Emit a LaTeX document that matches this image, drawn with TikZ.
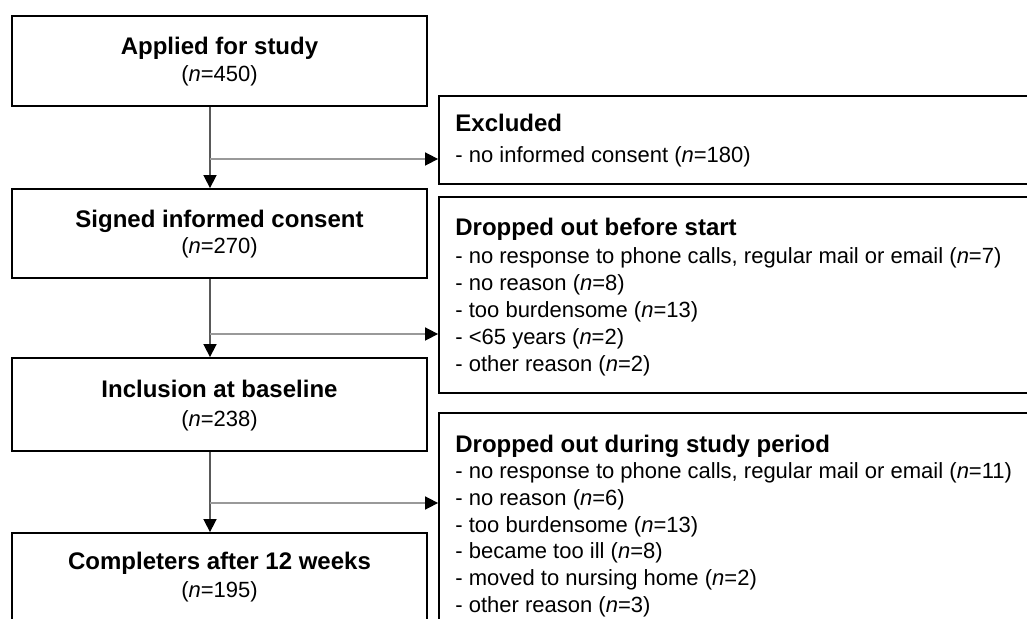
\documentclass[tikz,border=0pt]{standalone}
\usepackage{fontspec}
\setmainfont{Liberation Sans}
\usetikzlibrary{arrows.meta}
\begin{document}
\begin{tikzpicture}[x=0.5pt,y=-0.5pt,
  lbox/.style={draw=black,line width=0.9pt,minimum width=207.5pt,inner sep=0pt},
  rbox/.style={draw=black,line width=0.9pt,minimum width=300.5pt,inner sep=0pt},
  ttl/.style={inner sep=0pt,font=\fontsize{12}{14}\selectfont\bfseries,text height=9pt,text depth=2.5pt},
  num/.style={inner sep=0pt,font=\fontsize{11}{13}\selectfont,text height=8.2pt,text depth=2.3pt},
  rttl/.style={ttl,anchor=west},
  rtxt/.style={num,anchor=west},
  tip/.style={-{Triangle[length=6.5pt,width=6.5pt,color=black,fill=black]}},
  vline/.style={draw=black!65,line width=0.8pt,tip},
  hline/.style={draw=black!40,line width=0.8pt,tip}
]
\useasboundingbox (0,0) rectangle (1027,619);
\fill[white] (0,0) rectangle (1027,619);
\clip (0,0) rectangle (1027,619);

% left column boxes
\node[lbox,minimum height=45pt]   (a) at (219.5,61)    {};
\node[lbox,minimum height=44.5pt] (b) at (219.5,233.5) {};
\node[lbox,minimum height=46.5pt] (c) at (219.5,404.5) {};
\node[lbox,minimum height=45.5pt] (d) at (219.5,578.5) {};

\node[ttl] (at) at (219.5,48)  {Applied for study};
\node[num] (an) at (219.5,76)  {(\textit{n}=450)};
\node[ttl] (bt) at (219.5,221) {Signed informed consent};
\node[num] (bn) at (219.5,248) {(\textit{n}=270)};
\node[ttl] (ct) at (219.5,391) {Inclusion at baseline};
\node[num] (cn) at (219.5,421) {(\textit{n}=238)};
\node[ttl] (dt) at (219.5,563) {Completers after 12 weeks};
\node[num] (dn) at (219.5,592) {(\textit{n}=195)};

% right column boxes
\node[rbox,minimum height=44pt]    (e) at (739.5,140)   {};
\node[rbox,minimum height=98pt]    (f) at (739.5,295)   {};
\node[rbox,minimum height=113.5pt] (g) at (739.5,526.5) {};

\node[rttl] (et)  at (455,125) {Excluded};
\node[rtxt] (e1)  at (455,157) {- no informed consent (\textit{n}=180)};

\node[rttl] (ft)  at (455,229) {Dropped out before start};
\node[rtxt] (f1)  at (455,258) {- no response to phone calls, regular mail or email (\textit{n}=7)};
\node[rtxt] (f2)  at (455,285) {- no reason (\textit{n}=8)};
\node[rtxt] (f3)  at (455,312) {- too burdensome (\textit{n}=13)};
\node[rtxt] (f4)  at (455,339) {- <65 years (\textit{n}=2)};
\node[rtxt] (f5)  at (455,366) {- other reason (\textit{n}=2)};

\node[rttl] (gt)  at (455,446) {Dropped out during study period};
\node[rtxt] (g1)  at (455,473) {- no response to phone calls, regular mail or email (\textit{n}=11)};
\node[rtxt] (g2)  at (455,500) {- no reason (\textit{n}=6)};
\node[rtxt] (g3)  at (455,527) {- too burdensome (\textit{n}=13)};
\node[rtxt] (g4)  at (455,553) {- became too ill (\textit{n}=8)};
\node[rtxt] (g5)  at (455,580) {- moved to nursing home (\textit{n}=2)};
\node[rtxt] (g6)  at (455,607) {- other reason (\textit{n}=3)};

% connectors
\coordinate (j1) at (210,159);
\coordinate (j2) at (210,334);
\coordinate (j3) at (210,503);
\draw[vline] (a.south -| j1) -- (b.north -| j1);
\draw[vline] (b.south -| j2) -- (c.north -| j2);
\draw[vline] (c.south -| j3) -- (d.north -| j3);
\draw[hline] (j1) -- (j1 -| e.west);
\draw[hline] (j2) -- (j2 -| f.west);
\draw[hline] (j3) -- (j3 -| g.west);
\end{tikzpicture}
\end{document}
